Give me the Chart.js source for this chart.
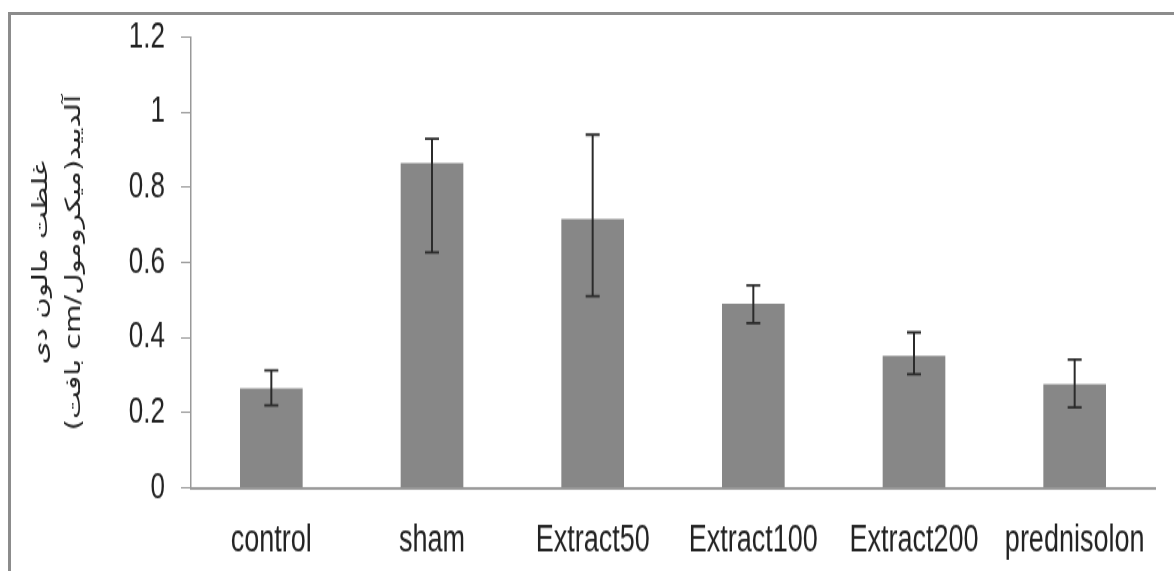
<!DOCTYPE html>
<html>
<head>
<meta charset="utf-8">
<script src="https://cdn.jsdelivr.net/npm/chart.js@4/dist/chart.umd.min.js"></script>
<style>
    body { margin: 0; background: #fff; }
    #wrap { position: relative; width: 1174px; height: 571px; overflow: hidden; }
    /* the source picture is squeezed sideways, so the chart is drawn short and stretched tall */
    #mdaChart { transform: scale(1, 1.3995); transform-origin: 0 0; }
    #frame {
        position: absolute; left: 8px; top: 12px; right: 0; bottom: 0;
        border-top: 3px solid #8c8c8c; border-left: 3px solid #8c8c8c;
        pointer-events: none;
    }
</style>
</head>
<body>
<div id="wrap">
    <canvas id="mdaChart" dir="rtl" width="1174" height="408" style="width:1174px;height:408px"></canvas>
    <div id="frame"></div>
</div>
<script>
const labels = ["control", "sham", "Extract50", "Extract100", "Extract200", "prednisolon"];
const means = [0.265, 0.865, 0.716, 0.49, 0.352, 0.276];
const errHigh = [0.313, 0.929, 0.94, 0.539, 0.414, 0.342];
const errLow = [0.22, 0.627, 0.51, 0.439, 0.303, 0.214];
const yTitle = ["غلظت مالون دی", "آلدیید(میکرومول/cm بافت)"];

// error bars drawn from the y scale
const errorBars = {
    id: "errorBars",
    afterDatasetsDraw(chart) {
        const ctx = chart.ctx;
        const y = chart.scales.y;
        const bars = chart.getDatasetMeta(0).data;
        ctx.save();
        ctx.strokeStyle = "#2b2b2b";
        bars.forEach((bar, i) => {
            const top = y.getPixelForValue(errHigh[i]);
            const bot = y.getPixelForValue(errLow[i]);
            ctx.lineWidth = 2;
            ctx.beginPath();
            ctx.moveTo(bar.x, top);
            ctx.lineTo(bar.x, bot);
            ctx.stroke();
            ctx.lineWidth = 1.8;
            ctx.beginPath();
            ctx.moveTo(bar.x - 7, top);
            ctx.lineTo(bar.x + 7, top);
            ctx.moveTo(bar.x - 7, bot);
            ctx.lineTo(bar.x + 7, bot);
            ctx.stroke();
        });
        ctx.restore();
    },
};

const config = {
    type: "bar",
    data: {
        labels: labels,
        datasets: [
            {
                label: "",
                data: means,
                backgroundColor: "#878787",
                barPercentage: 0.39,
                categoryPercentage: 1,
            },
        ],
    },
    options: {
        responsive: false,
        animation: false,
        layout: { padding: { top: 26, right: 19, left: 0, bottom: 0 } },
        scales: {
            x: {
                grid: { display: false, drawTicks: false },
                border: { display: true, color: "#9a9a9a", width: 2 },
                ticks: {
                    color: "#222",
                    font: { family: "'Liberation Sans'", size: 27 },
                    padding: 22,
                    maxRotation: 0,
                    autoSkip: false,
                },
                afterFit(scale) { scale.height = 59.3; },
            },
            y: {
                min: 0,
                max: 1.2,
                grid: { drawOnChartArea: false, drawTicks: true, tickLength: 10, color: "#999", lineWidth: 1 },
                border: { display: true, color: "#999", width: 1.5 },
                ticks: {
                    stepSize: 0.2,
                    color: "#222",
                    font: { family: "'Liberation Sans'", size: 26, lineHeight: 0.8 },
                    padding: 16,
                    callback: (v) => Math.round(v * 10) / 10,
                },
                title: {
                    display: true,
                    text: yTitle,
                    color: "#222",
                    font: { family: "'DejaVu Sans'", size: 21, lineHeight: 1.57 },
                    padding: { top: 25, bottom: 0 },
                },
                afterFit(scale) { scale.width = 191; },
            },
        },
        plugins: {
            legend: { display: false },
            tooltip: { enabled: false },
        },
    },
    plugins: [errorBars],
};

let mdaChart = new Chart(document.getElementById("mdaChart"), config);
</script>
</body>
</html>
